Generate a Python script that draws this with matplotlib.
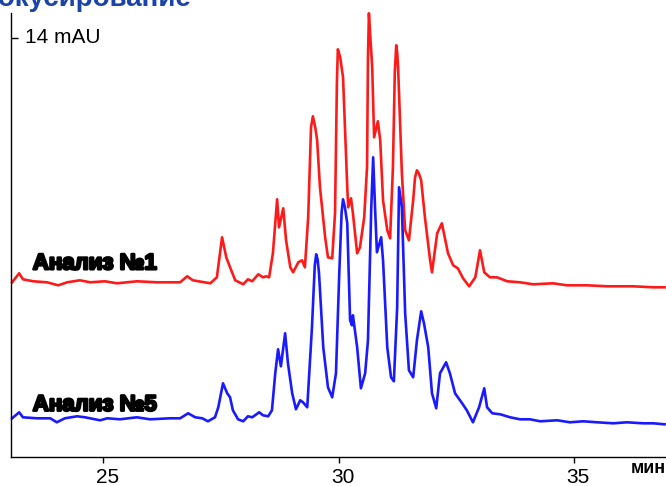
import matplotlib
matplotlib.use("Agg")
import matplotlib.pyplot as plt
import matplotlib.patheffects as pe
import matplotlib.transforms as mtransforms

# Время удерживания, мин, и сигнал (высота на графике) для двух анализов
red_time = [23.06, 23.21, 23.29, 23.51, 23.80, 24.04, 24.23, 24.50, 24.72, 25.03,
            25.29, 25.71, 26.14, 26.48, 26.63, 26.78, 26.90, 27.27, 27.41, 27.52,
            27.61, 27.69, 27.80, 27.97, 28.07, 28.16, 28.29, 28.39, 28.46, 28.52,
            28.60, 28.69, 28.73, 28.82, 28.88, 28.97, 29.03, 29.14, 29.22, 29.28,
            29.35, 29.41, 29.45, 29.50, 29.54, 29.60, 29.71, 29.77, 29.86, 29.92,
            29.96, 29.98, 30.03, 30.09, 30.18, 30.20, 30.26, 30.30, 30.39, 30.45,
            30.54, 30.60, 30.62, 30.64, 30.67, 30.71, 30.75, 30.83, 30.88, 30.94,
            31.03, 31.09, 31.15, 31.19, 31.22, 31.24, 31.26, 31.34, 31.41, 31.49,
            31.58, 31.62, 31.66, 31.70, 31.75, 31.83, 31.94, 31.98, 32.09, 32.19,
            32.32, 32.43, 32.53, 32.64, 32.77, 32.90, 33.00, 33.09, 33.21, 33.36,
            33.58, 33.85, 34.13, 34.55, 34.85, 35.27, 35.70, 36.25, 36.68, 36.92]
red_signal = [175, 184, 178, 176, 175, 172, 175, 177, 175, 176,
              174, 176, 175, 175, 175, 181, 177, 174, 180, 220,
              200, 190, 177, 173, 178, 176, 183, 180, 181, 180,
              204, 258, 230, 249, 217, 190, 185, 195, 197, 190,
              240, 330, 341, 330, 317, 270, 220, 200, 199, 244,
              375, 408, 400, 380, 270, 250, 259, 244, 204, 210,
              240, 290, 400, 444, 420, 390, 320, 336, 317, 257,
              227, 219, 290, 385, 412, 405, 390, 284, 227, 217,
              257, 280, 287, 284, 277, 240, 197, 185, 224, 234,
              204, 192, 189, 179, 171, 180, 207, 185, 180, 180,
              176, 175, 173, 174, 172, 172, 171, 171, 170, 170]

blue_time = [23.06, 23.21, 23.29, 23.59, 23.87, 24.01, 24.18, 24.44, 24.61, 24.93,
             25.08, 25.35, 25.71, 25.99, 26.42, 26.63, 26.80, 26.95, 27.10, 27.22,
             27.37, 27.44, 27.54, 27.63, 27.69, 27.75, 27.86, 27.97, 28.07, 28.16,
             28.31, 28.39, 28.50, 28.58, 28.65, 28.71, 28.77, 28.86, 28.92, 29.01,
             29.09, 29.18, 29.24, 29.33, 29.43, 29.49, 29.52, 29.55, 29.58, 29.67,
             29.77, 29.86, 29.94, 30.01, 30.06, 30.09, 30.13, 30.18, 30.24, 30.28,
             30.30, 30.39, 30.47, 30.56, 30.62, 30.69, 30.73, 30.77, 30.81, 30.90,
             30.94, 31.03, 31.11, 31.17, 31.24, 31.28, 31.34, 31.41, 31.49, 31.58,
             31.66, 31.75, 31.81, 31.90, 31.98, 32.07, 32.15, 32.28, 32.36, 32.47,
             32.62, 32.72, 32.85, 32.98, 33.09, 33.15, 33.26, 33.43, 33.64, 33.85,
             34.06, 34.28, 34.64, 34.91, 35.19, 35.49, 35.83, 36.12, 36.46, 36.68,
             36.92]
blue_signal = [39, 45, 40, 39, 39, 35, 39, 41, 40, 37,
               39, 38, 40, 38, 39, 39, 44, 40, 39, 36,
               40, 50, 74, 64, 60, 47, 38, 36, 41, 40,
               45, 42, 41, 47, 84, 108, 91, 124, 94, 64,
               48, 57, 55, 50, 130, 192, 203, 198, 184, 110,
               70, 60, 84, 184, 245, 258, 250, 234, 137, 132,
               142, 110, 69, 84, 117, 250, 300, 250, 205, 220,
               197, 110, 80, 76, 150, 270, 250, 144, 87, 80,
               117, 146, 134, 110, 64, 49, 84, 95, 84, 64,
               54, 47, 35, 50, 69, 50, 44, 43, 40, 38,
               38, 36, 37, 35, 36, 35, 34, 35, 34, 34,
               33]

x_ticks = [25, 30, 35]
scale_mark = 419  # отметка "14 mAU"

fig = plt.figure(figsize=(6.66, 4.86), dpi=100)
ax = fig.add_axes([10.7 / 666, 28.7 / 486, (665 - 10.7) / 666, (457.3 - 13) / 486])

ax.plot(red_time, red_signal, color="#ff1a1a", lw=1.9, clip_on=False,
        solid_joinstyle="round")
ax.plot(blue_time, blue_signal, color="#1a1aff", lw=1.9, clip_on=False,
        solid_joinstyle="round")

ax.set_xlim(23.03, 36.93)
ax.set_ylim(0, 444.3)

for side in ["top", "right"]:
    ax.spines[side].set_visible(False)
ax.spines["left"].set_linewidth(1.0)
ax.spines["bottom"].set_linewidth(1.0)

ax.set_xticks(x_ticks)
ax.set_xticklabels([str(v) for v in x_ticks], family="Liberation Sans", fontsize=15)
ax.tick_params(axis="x", direction="out", length=4, width=1, pad=4)
shift = mtransforms.ScaledTranslation(4 / 100, 0, fig.dpi_scale_trans)
for lbl in ax.get_xticklabels():
    lbl.set_transform(lbl.get_transform() + shift)

ax.set_yticks([scale_mark])
ax.set_yticklabels([""])
ax.tick_params(axis="y", direction="in", length=5, width=1)
ax.text(23.34, scale_mark + 1, "14 mAU", family="Liberation Sans", fontsize=15,
        va="center", ha="left")

heavy = [pe.withStroke(linewidth=1.8, foreground="black")]
ax.text(23.50, 188, "Анализ №1", family="Liberation Sans", fontsize=16,
        weight="bold", va="baseline", ha="left", path_effects=heavy)
ax.text(23.50, 46.6, "Анализ №5", family="Liberation Sans", fontsize=16,
        weight="bold", va="baseline", ha="left", path_effects=heavy)

fig.text(631 / 666, 13 / 486, "мин", family="Liberation Sans", fontsize=13,
         weight="bold", va="baseline", ha="left")
fig.text(-0.039, 0.988, "Фокусирование", family="Liberation Sans", fontsize=20,
         weight="bold", color="#1a44a8", va="baseline", ha="left")

fig.savefig("out.png", dpi=100)
